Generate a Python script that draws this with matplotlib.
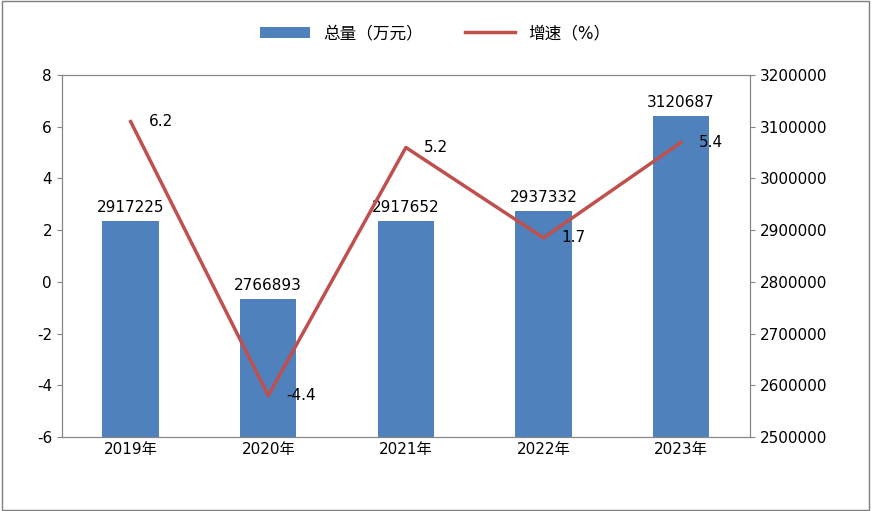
import matplotlib
matplotlib.use("Agg")
import matplotlib.pyplot as plt
from matplotlib.patches import Rectangle
from matplotlib.ticker import FuncFormatter

matplotlib.rcParams["font.family"] = ["DejaVu Sans", "Noto Sans CJK SC"]
matplotlib.rcParams["axes.unicode_minus"] = False

years = ["2019年", "2020年", "2021年", "2022年", "2023年"]
totals = [2917225, 2766893, 2917652, 2937332, 3120687]
growth = [6.2, -4.4, 5.2, 1.7, 5.4]

BAR = "#4f81bd"
LINE = "#c0504d"

fig = plt.figure(figsize=(8.71, 5.11), dpi=100)
fig.patches.append(Rectangle((0.002, 0.002), 0.996, 0.996, transform=fig.transFigure,
                             fill=False, edgecolor="#7f7f7f", linewidth=1))
ax = fig.add_axes([0.071, 0.145, 0.79, 0.708])
axr = ax.twinx()

x = list(range(len(years)))
axr.bar(x, [t - 2500000 for t in totals], bottom=2500000, width=0.41, color=BAR,
        label="总量（万元）", zorder=2)
for xi, t in zip(x, totals):
    axr.text(xi, t + 12000, str(t), ha="center", va="bottom", fontsize=11)
axr.set_ylim(2500000, 3200000)
axr.set_yticks(range(2500000, 3200001, 100000))
axr.yaxis.set_major_formatter(FuncFormatter(lambda v, p: f"{int(v)}"))

ax.plot(x, growth, color=LINE, linewidth=2.5, label="增速（%）", zorder=5)
for xi, g in zip(x, growth):
    ax.text(xi + 0.13, g, f"{g}", ha="left", va="center", fontsize=11, zorder=6)
ax.set_ylim(-6, 8)
ax.set_yticks(range(-6, 9, 2))
ax.set_xlim(-0.5, 4.5)
ax.set_xticks(x)
ax.set_xticklabels(years, fontsize=11)
ax.set_zorder(axr.get_zorder() + 1)
ax.patch.set_visible(False)

for a in (ax, axr):
    for s in a.spines.values():
        s.set_color("#868686")
    a.tick_params(labelsize=11, color="#868686")
ax.tick_params(axis="x", length=0)

h1, l1 = axr.get_legend_handles_labels()
h2, l2 = ax.get_legend_handles_labels()
fig.legend(h1 + h2, l1 + l2, loc="center", bbox_to_anchor=(0.5, 0.935), ncol=2,
           frameon=False, fontsize=12, handlelength=3, columnspacing=2.5)

fig.savefig("out.png")
